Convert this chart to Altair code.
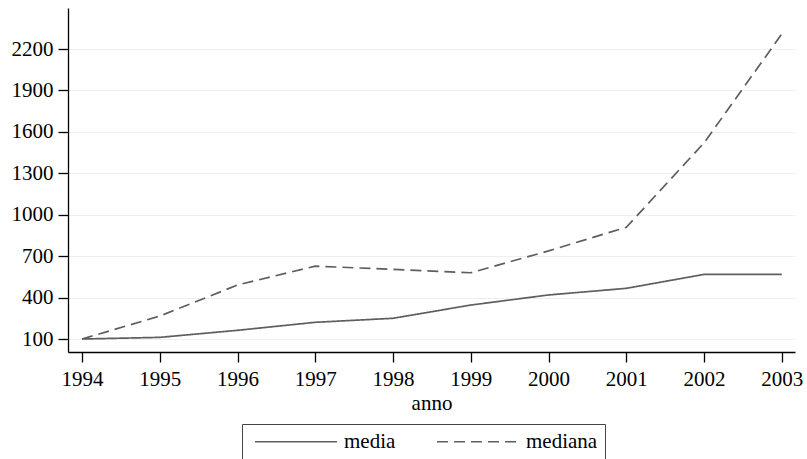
import altair as alt
import pandas as pd

anni = [1994, 1995, 1996, 1997, 1998, 1999, 2000, 2001, 2002, 2003]
media = [100, 112, 163, 221, 250, 346, 419, 467, 568, 568]
mediana = [100, 266, 491, 628, 604, 580, 738, 909, 1520, 2309]
serie = ["media", "mediana"]
y_ticks = [100, 400, 700, 1000, 1300, 1600, 1900, 2200]

df = pd.DataFrame({
    "anno": anni + anni,
    "valore": media + mediana,
    "serie": [serie[0]] * len(anni) + [serie[1]] * len(anni),
})

FONT = "Liberation Serif"
FS = 21

chart = alt.Chart(df).mark_line(color="#5e5e5e", strokeWidth=1.7).encode(
    x=alt.X("anno:Q",
            scale=alt.Scale(domain=[1993.82, 2003.17], nice=False, zero=False),
            axis=alt.Axis(values=anni, format="d", title="anno", grid=False,
                          domainColor="black", domainWidth=1.3,
                          tickColor="black", tickWidth=1.3, tickSize=10,
                          labelFont=FONT, labelFontSize=FS, labelColor="black",
                          labelPadding=6, labelFlush=False, labelOverlap=False,
                          titleFont=FONT, titleFontSize=FS, titleFontWeight="normal",
                          titleColor="black", titlePadding=3)),
    y=alt.Y("valore:Q",
            scale=alt.Scale(domain=[6, 2497], nice=False, zero=False),
            axis=alt.Axis(values=y_ticks, format="d", title=None, grid=True,
                          gridColor="#efefef", gridWidth=1.2,
                          domainColor="black", domainWidth=1.3,
                          tickColor="black", tickWidth=1.3, tickSize=10,
                          labelFont=FONT, labelFontSize=FS, labelColor="black",
                          labelPadding=5, labelFlush=False, labelOverlap=False)),
    strokeDash=alt.StrokeDash("serie:N",
                              scale=alt.Scale(domain=serie, range=[[1, 0], [11, 6]]),
                              legend=alt.Legend(title=None, orient="none", direction="horizontal",
                                                legendX=174, legendY=416,
                                                padding=7, strokeColor="#444444", fillColor="white",
                                                symbolType="M-0.9,0H15.5", symbolSize=100,
                                                symbolStrokeWidth=1.3, symbolStrokeColor="#5e5e5e",
                                                labelFont=FONT, labelFontSize=FS, labelColor="black",
                                                labelOffset=74, columnPadding=35)),
).properties(
    width=727, height=344,
    autosize=alt.AutoSizeParams(type="none"),
    padding={"left": 68, "top": 8, "right": 12, "bottom": 107},
).configure_view(stroke=None)

chart.save("out.html", embed_options={"renderer": "svg", "actions": False})
